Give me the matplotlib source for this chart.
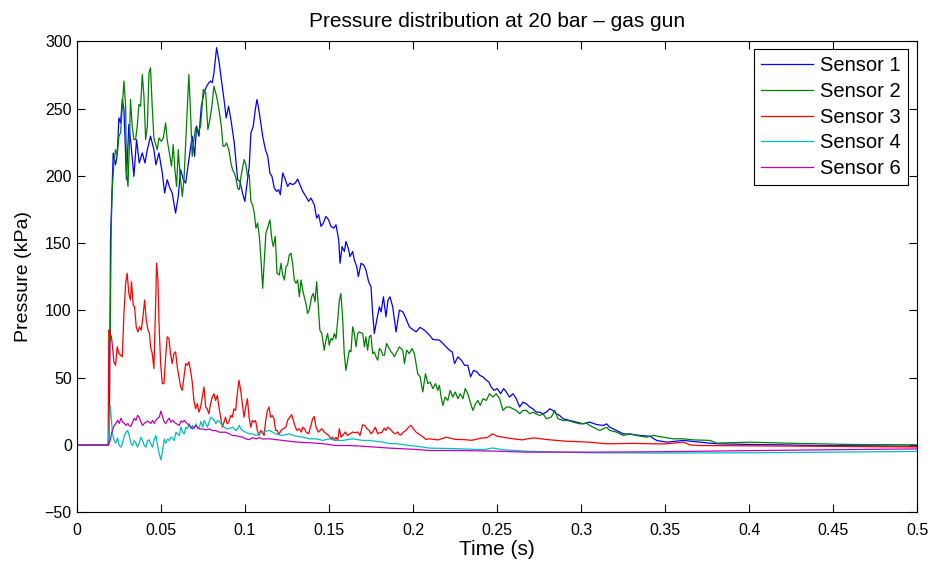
import matplotlib
matplotlib.use('Agg')
import matplotlib.pyplot as plt

plt.rcParams['font.family'] = ['Liberation Sans', 'DejaVu Sans']

# Sensor 1
t1 = [0, 0.0190, 0.0196, 0.0201, 0.0217, 0.0231, 0.0241, 0.0251, 0.0261, 0.0271,
      0.0281, 0.0296, 0.0310, 0.0324, 0.0340, 0.0356, 0.0372, 0.0390, 0.0406, 0.0420,
      0.0439, 0.0459, 0.0471, 0.0489, 0.0509, 0.0523, 0.0538, 0.0554, 0.0568, 0.0588,
      0.0604, 0.0618, 0.0634, 0.0648, 0.0667, 0.0687, 0.0701, 0.0713, 0.0727, 0.0741,
      0.0757, 0.0773, 0.0786, 0.0796, 0.0806, 0.0816, 0.0832, 0.0846, 0.0860, 0.0876,
      0.0889, 0.0903, 0.0917, 0.0937, 0.0957, 0.0971, 0.0986, 0.1000, 0.1012, 0.1026,
      0.1036, 0.1050, 0.1062, 0.1072, 0.1086, 0.1106, 0.1122, 0.1136, 0.1149, 0.1161,
      0.1175, 0.1189, 0.1201, 0.1211, 0.1225, 0.1241, 0.1254, 0.1268, 0.1284, 0.1300,
      0.1314, 0.1328, 0.1344, 0.1363, 0.1379, 0.1393, 0.1413, 0.1427, 0.1439, 0.1453,
      0.1467, 0.1482, 0.1498, 0.1512, 0.1528, 0.1542, 0.1558, 0.1566, 0.1578, 0.1592,
      0.1601, 0.1615, 0.1625, 0.1641, 0.1651, 0.1665, 0.1675, 0.1691, 0.1707, 0.1720,
      0.1736, 0.1750, 0.1760, 0.1770, 0.1784, 0.1800, 0.1810, 0.1824, 0.1839, 0.1851,
      0.1863, 0.1879, 0.1899, 0.1919, 0.1939, 0.1958, 0.1978, 0.1989, 0.2018, 0.2042,
      0.2068, 0.2098, 0.2118, 0.2157, 0.2178, 0.2197, 0.2217, 0.2233, 0.2247, 0.2267,
      0.2287, 0.2307, 0.2326, 0.2342, 0.2360, 0.2380, 0.2396, 0.2416, 0.2436, 0.2451,
      0.2465, 0.2481, 0.2501, 0.2521, 0.2539, 0.2555, 0.2574, 0.2594, 0.2614, 0.2634,
      0.2654, 0.2674, 0.2694, 0.2713, 0.2733, 0.2753, 0.2773, 0.2793, 0.2813, 0.2832,
      0.2852, 0.2872, 0.2892, 0.2932, 0.2972, 0.3012, 0.3051, 0.3091, 0.3131, 0.3151,
      0.3170, 0.3210, 0.3250, 0.3310, 0.3349, 0.3409, 0.3449, 0.3508, 0.3607, 0.3707,
      0.3806, 0.4005, 0.4203, 0.4402, 0.4700, 0.5]
p1 = [0, 0, 40, 152.4, 216.9, 208.2, 215.7, 243.0, 239.3, 256.7,
      249.3, 197.1, 238.1, 221.9, 199.6, 226.9, 209.5, 217.0, 209.5, 219.4,
      229.4, 219.4, 208.2, 217.0, 202.1, 187.2, 197.1, 190.9, 187.2, 172.3,
      184.7, 204.6, 197.1, 194.6, 212.0, 229.4, 214.5, 236.9, 229.4, 251.7,
      261.7, 266.6, 269.1, 270.4, 269.1, 276.5, 295.2, 285.3, 271.6, 256.7,
      243.0, 251.7, 241.8, 224.4, 197.1, 195.9, 187.2, 181.0, 193.4, 207.1,
      231.9, 236.9, 249.3, 256.7, 246.8, 229.4, 219.5, 214.5, 202.1, 199.6,
      190.9, 188.4, 189.7, 186.0, 202.1, 197.1, 192.1, 194.6, 193.4, 194.6,
      197.6, 193.4, 188.4, 184.7, 181.0, 183.5, 178.5, 168.6, 171.1, 162.4,
      164.9, 169.8, 167.3, 162.4, 161.1, 163.6, 152.4, 135.0, 147.4, 143.7,
      151.2, 146.2, 140.0, 143.7, 137.5, 132.5, 125.1, 135.0, 133.8, 130.0,
      121.3, 117.6, 97.7, 82.8, 92.7, 102.7, 98.9, 110.1, 95.2, 107.6,
      110.1, 102.7, 84.0, 100.2, 99.0, 94.0, 87.8, 86.6, 84.1, 87.4,
      85.3, 81.6, 78.4, 77.9, 75.4, 72.9, 70.4, 69.2, 60.5, 65.5,
      63.0, 59.2, 59.2, 50.6, 55.5, 54.3, 51.8, 50.6, 48.1, 46.8,
      43.1, 40.6, 41.9, 38.1, 41.9, 39.4, 35.6, 38.1, 34.4, 28.2,
      31.9, 30.6, 28.2, 26.9, 24.4, 24.4, 23.2, 24.4, 26.9, 25.7,
      23.2, 21.9, 19.5, 18.2, 17.0, 15.7, 17.0, 15.2, 14.5, 15.7,
      13.2, 10.8, 8.3, 7.8, 7.1, 6.5, 3.4, 2.1, 3.4, 2.1,
      0.9, 0.4, 0.1, -0.4, -0.6, -0.9]

# Sensor 2
t2 = [0, 0.0190, 0.0196, 0.0199, 0.0205, 0.0211, 0.0221, 0.0231, 0.0241, 0.0251,
      0.0261, 0.0271, 0.0281, 0.0291, 0.0296, 0.0305, 0.0314, 0.0320, 0.0330, 0.0340,
      0.0350, 0.0360, 0.0370, 0.0380, 0.0390, 0.0400, 0.0410, 0.0420, 0.0430, 0.0439,
      0.0449, 0.0459, 0.0479, 0.0489, 0.0503, 0.0515, 0.0529, 0.0538, 0.0554, 0.0564,
      0.0574, 0.0584, 0.0594, 0.0604, 0.0614, 0.0628, 0.0638, 0.0652, 0.0667, 0.0677,
      0.0687, 0.0697, 0.0707, 0.0721, 0.0737, 0.0753, 0.0767, 0.0780, 0.0792, 0.0804,
      0.0816, 0.0832, 0.0846, 0.0860, 0.0870, 0.0880, 0.0891, 0.0905, 0.0917, 0.0927,
      0.0937, 0.0947, 0.0957, 0.0967, 0.0977, 0.0986, 0.0996, 0.1006, 0.1016, 0.1026,
      0.1036, 0.1046, 0.1056, 0.1066, 0.1076, 0.1086, 0.1096, 0.1106, 0.1116, 0.1125,
      0.1135, 0.1149, 0.1161, 0.1169, 0.1181, 0.1191, 0.1205, 0.1215, 0.1225, 0.1235,
      0.1245, 0.1254, 0.1264, 0.1274, 0.1284, 0.1294, 0.1304, 0.1314, 0.1324, 0.1334,
      0.1344, 0.1353, 0.1363, 0.1373, 0.1383, 0.1397, 0.1407, 0.1417, 0.1427, 0.1437,
      0.1446, 0.1458, 0.1472, 0.1482, 0.1492, 0.1502, 0.1512, 0.1522, 0.1532, 0.1542,
      0.1552, 0.1562, 0.1571, 0.1581, 0.1591, 0.1601, 0.1611, 0.1621, 0.1631, 0.1641,
      0.1651, 0.1661, 0.1671, 0.1681, 0.1701, 0.1711, 0.1720, 0.1730, 0.1740, 0.1750,
      0.1760, 0.1770, 0.1780, 0.1790, 0.1800, 0.1810, 0.1820, 0.1830, 0.1843, 0.1859,
      0.1869, 0.1879, 0.1889, 0.1903, 0.1919, 0.1939, 0.1949, 0.1962, 0.1978, 0.1994,
      0.2008, 0.2028, 0.2042, 0.2058, 0.2074, 0.2088, 0.2102, 0.2118, 0.2134, 0.2147,
      0.2157, 0.2167, 0.2178, 0.2191, 0.2207, 0.2221, 0.2237, 0.2251, 0.2267, 0.2281,
      0.2297, 0.2310, 0.2326, 0.2340, 0.2356, 0.2372, 0.2386, 0.2400, 0.2416, 0.2436,
      0.2455, 0.2475, 0.2495, 0.2515, 0.2535, 0.2555, 0.2574, 0.2594, 0.2614, 0.2634,
      0.2654, 0.2674, 0.2694, 0.2713, 0.2753, 0.2773, 0.2793, 0.2822, 0.2843, 0.2862,
      0.2892, 0.2922, 0.2952, 0.2992, 0.3031, 0.3051, 0.3071, 0.3111, 0.3151, 0.3170,
      0.3210, 0.3250, 0.3290, 0.3329, 0.3389, 0.3429, 0.3488, 0.3548, 0.3607, 0.3667,
      0.3766, 0.3806, 0.4005, 0.4203, 0.4601, 0.5]
p2 = [0, 0, 85.3, 78.0, 160.0, 189.6, 209.5, 219.4, 215.7, 229.4,
      231.9, 251.7, 270.4, 251.7, 202.1, 192.1, 226.9, 256.7, 236.9, 226.9,
      226.9, 236.9, 253.0, 251.7, 275.3, 259.1, 226.9, 236.9, 276.6, 280.3,
      251.7, 228.1, 219.4, 228.1, 225.6, 228.1, 239.3, 226.9, 214.5, 207.1,
      223.2, 204.6, 192.1, 219.4, 202.1, 184.7, 197.1, 235.6, 275.3, 246.8,
      214.5, 226.9, 235.6, 231.9, 236.9, 264.2, 261.7, 234.4, 241.8, 251.7,
      266.6, 259.1, 249.3, 236.9, 222.0, 222.0, 224.4, 219.4, 209.5, 204.5,
      202.1, 198.4, 190.9, 189.7, 199.6, 205.8, 212.0, 208.3, 199.6, 200.8,
      181.0, 178.5, 172.3, 161.1, 164.9, 155.0, 137.5, 116.4, 137.5, 157.4,
      161.1, 167.3, 152.4, 147.4, 155.0, 127.6, 126.3, 135.0, 126.3, 122.6,
      132.5, 133.8, 141.2, 142.5, 135.0, 122.6, 120.1, 122.6, 110.1, 122.6,
      115.1, 110.1, 105.2, 97.7, 100.2, 110.1, 112.6, 106.4, 121.3, 102.7,
      85.3, 82.8, 70.4, 77.9, 82.8, 74.1, 79.1, 77.9, 82.8, 79.1,
      92.7, 107.6, 112.6, 95.2, 67.9, 55.5, 63.0, 70.4, 69.2, 87.8,
      82.8, 72.9, 82.8, 84.0, 82.8, 72.9, 80.4, 70.4, 80.4, 81.6,
      67.9, 69.2, 65.5, 63.0, 71.7, 70.4, 66.7, 66.7, 75.4, 71.7,
      69.2, 67.9, 65.5, 69.2, 72.9, 70.4, 60.5, 70.4, 67.9, 71.7,
      67.9, 53.0, 50.6, 39.4, 53.0, 45.6, 46.8, 41.9, 45.6, 40.6,
      44.3, 35.6, 29.4, 35.6, 33.1, 40.6, 35.6, 39.4, 34.4, 38.1,
      34.4, 41.9, 38.1, 31.9, 25.7, 30.6, 33.1, 29.4, 34.4, 33.1,
      38.1, 35.6, 38.1, 34.4, 25.7, 28.2, 28.2, 26.9, 25.7, 23.2,
      25.7, 25.7, 23.2, 24.4, 21.9, 23.2, 19.5, 20.7, 25.7, 19.5,
      18.2, 18.2, 17.0, 15.7, 16.2, 14.5, 13.2, 10.8, 13.2, 10.8,
      9.6, 7.1, 8.3, 7.1, 5.8, 7.1, 5.8, 4.6, 4.6, 3.8,
      3.4, 1.4, 2.1, 1.4, 0.4, 0.1]

# Sensor 3
t3 = [0, 0.0187, 0.0191, 0.0197, 0.0207, 0.0221, 0.0231, 0.0241, 0.0251, 0.0261,
      0.0271, 0.0281, 0.0291, 0.0300, 0.0310, 0.0320, 0.0326, 0.0336, 0.0344, 0.0354,
      0.0364, 0.0374, 0.0384, 0.0394, 0.0404, 0.0414, 0.0424, 0.0433, 0.0439, 0.0449,
      0.0459, 0.0469, 0.0475, 0.0483, 0.0489, 0.0499, 0.0509, 0.0519, 0.0529, 0.0538,
      0.0548, 0.0558, 0.0568, 0.0578, 0.0588, 0.0598, 0.0608, 0.0618, 0.0628, 0.0638,
      0.0648, 0.0658, 0.0667, 0.0677, 0.0687, 0.0697, 0.0707, 0.0717, 0.0727, 0.0737,
      0.0747, 0.0757, 0.0767, 0.0776, 0.0786, 0.0796, 0.0806, 0.0816, 0.0826, 0.0836,
      0.0846, 0.0856, 0.0866, 0.0876, 0.0885, 0.0895, 0.0905, 0.0915, 0.0925, 0.0935,
      0.0945, 0.0955, 0.0965, 0.0975, 0.0985, 0.0995, 0.1005, 0.1015, 0.1025, 0.1035,
      0.1044, 0.1054, 0.1064, 0.1074, 0.1084, 0.1094, 0.1104, 0.1114, 0.1124, 0.1134,
      0.1144, 0.1153, 0.1163, 0.1173, 0.1183, 0.1193, 0.1201, 0.1215, 0.1229, 0.1244,
      0.1254, 0.1268, 0.1278, 0.1288, 0.1300, 0.1310, 0.1324, 0.1336, 0.1344, 0.1354,
      0.1364, 0.1379, 0.1393, 0.1403, 0.1413, 0.1423, 0.1437, 0.1447, 0.1458, 0.1473,
      0.1486, 0.1498, 0.1512, 0.1522, 0.1532, 0.1542, 0.1552, 0.1562, 0.1572, 0.1582,
      0.1598, 0.1611, 0.1625, 0.1641, 0.1657, 0.1671, 0.1685, 0.1700, 0.1714, 0.1726,
      0.1740, 0.1750, 0.1760, 0.1776, 0.1790, 0.1800, 0.1814, 0.1829, 0.1839, 0.1849,
      0.1863, 0.1879, 0.1893, 0.1909, 0.1919, 0.1929, 0.1943, 0.1958, 0.1974, 0.1988,
      0.2002, 0.2018, 0.2033, 0.2047, 0.2061, 0.2077, 0.2093, 0.2150, 0.2197, 0.2250,
      0.2300, 0.2350, 0.2400, 0.2440, 0.2474, 0.2500, 0.2550, 0.2600, 0.2650, 0.2713,
      0.2800, 0.2912, 0.3051, 0.3151, 0.3310, 0.3409, 0.3500, 0.3607, 0.3650, 0.3707,
      0.4000, 0.4500, 0.5]
p3 = [0, 0, 85.3, 82.8, 80.4, 61.8, 59.2, 73.0, 68.0, 66.7,
      65.5, 97.7, 120.1, 127.6, 112.6, 107.6, 121.3, 103.9, 102.7, 87.8,
      84.0, 87.8, 85.3, 95.2, 107.6, 92.7, 85.3, 82.8, 73.0, 68.0,
      56.8, 102.7, 135.0, 122.6, 92.7, 60.5, 45.6, 45.6, 65.5, 80.4,
      79.1, 68.0, 60.5, 68.0, 69.2, 58.0, 50.6, 43.1, 40.6, 50.6,
      60.5, 59.2, 61.8, 55.5, 46.8, 33.1, 26.9, 30.6, 24.4, 28.2,
      35.6, 43.1, 28.2, 26.9, 23.2, 30.6, 35.6, 38.1, 33.1, 36.8,
      28.2, 20.7, 13.2, 17.0, 20.7, 15.7, 17.0, 21.9, 20.7, 26.9,
      25.7, 38.1, 48.1, 40.6, 30.6, 20.7, 28.2, 34.4, 20.7, 13.2,
      18.2, 17.0, 18.2, 10.8, 7.1, 10.8, 9.6, 7.1, 18.2, 25.7,
      28.2, 20.7, 21.9, 19.5, 10.8, 10.8, 7.6, 10.8, 12.1, 13.3,
      18.3, 20.7, 22.5, 18.3, 13.3, 10.8, 12.1, 9.6, 13.3, 12.1,
      9.6, 8.3, 14.5, 19.5, 21.2, 13.3, 9.6, 10.8, 12.1, 9.6,
      8.3, 7.1, 4.6, 5.8, 3.4, 5.8, 3.4, 12.1, 5.8, 7.1,
      9.6, 7.1, 8.3, 9.6, 9.1, 9.6, 7.1, 15.0, 14.5, 12.1,
      10.8, 8.3, 9.6, 13.3, 8.3, 9.1, 9.1, 12.6, 10.8, 13.3,
      12.1, 9.6, 8.3, 9.6, 7.6, 7.6, 9.6, 10.8, 13.3, 14.5,
      12.1, 9.6, 8.3, 7.1, 5.8, 4.1, 4.6, 3.8, 5.8, 4.2,
      4.0, 3.5, 5.0, 5.5, 8.3, 6.5, 5.5, 4.5, 3.8, 5.3,
      4.0, 2.8, 2.1, 0.9, 1.2, 0.9, 0.8, 2.1, 0.0, -0.4,
      -0.6, -1.0, -1.5]

# Sensor 4
t4 = [0, 0.0185, 0.0192, 0.0199, 0.0205, 0.0213, 0.0223, 0.0233, 0.0243, 0.0253,
      0.0263, 0.0273, 0.0283, 0.0293, 0.0303, 0.0312, 0.0322, 0.0332, 0.0342, 0.0352,
      0.0362, 0.0372, 0.0382, 0.0392, 0.0402, 0.0412, 0.0422, 0.0431, 0.0441, 0.0451,
      0.0461, 0.0471, 0.0481, 0.0491, 0.0501, 0.0511, 0.0521, 0.0530, 0.0540, 0.0550,
      0.0560, 0.0570, 0.0580, 0.0590, 0.0600, 0.0610, 0.0620, 0.0630, 0.0640, 0.0649,
      0.0659, 0.0669, 0.0679, 0.0689, 0.0699, 0.0709, 0.0719, 0.0729, 0.0739, 0.0749,
      0.0758, 0.0768, 0.0778, 0.0788, 0.0798, 0.0808, 0.0818, 0.0828, 0.0838, 0.0848,
      0.0858, 0.0868, 0.0887, 0.0907, 0.0927, 0.0947, 0.0957, 0.0967, 0.0976, 0.0986,
      0.1006, 0.1026, 0.1046, 0.1066, 0.1086, 0.1105, 0.1125, 0.1145, 0.1185, 0.1224,
      0.1264, 0.1304, 0.1344, 0.1383, 0.1423, 0.1463, 0.1502, 0.1542, 0.1582, 0.1641,
      0.1700, 0.1740, 0.1780, 0.1820, 0.1859, 0.1899, 0.1939, 0.1978, 0.2018, 0.2058,
      0.2097, 0.2276, 0.2420, 0.2474, 0.2530, 0.2672, 0.2871, 0.3069, 0.3466, 0.4000,
      0.4500, 0.5]
p4 = [0, 0, 10.0, 29.4, 20.7, 8.3, 3.4, 1.4, 5.2, -0.4,
      -1.6, 1.4, 7.0, 9.5, 10.7, 7.0, 1.4, -0.4, 3.3, 1.4,
      -1.6, 1.4, 5.7, 3.3, -0.4, -1.6, 3.3, 3.8, 0.9, -1.6,
      4.4, 7.0, -0.4, -6.6, -11.0, -4.1, 4.4, 1.4, 4.4, 3.3,
      5.7, 5.2, 3.3, 9.5, 8.3, 7.0, 13.3, 9.5, 8.3, 13.3,
      12.1, 15.8, 12.1, 14.5, 12.1, 15.8, 12.1, 13.3, 17.4, 13.3,
      18.3, 15.8, 13.3, 17.4, 20.7, 19.5, 18.3, 15.8, 18.3, 17.4,
      15.8, 14.5, 12.1, 12.1, 13.3, 10.7, 12.1, 14.5, 12.1, 10.7,
      9.5, 8.3, 8.3, 7.0, 8.3, 9.5, 10.2, 10.8, 8.3, 7.1,
      8.3, 6.6, 5.8, 4.6, 4.6, 3.4, 4.6, 3.4, 3.4, 4.6,
      3.4, 3.4, 2.7, 2.2, 1.0, 1.0, 0.3, -0.4, -0.9, -1.6,
      -2.3, -2.8, -3.5, -2.2, -3.5, -4.6, -5.3, -5.8, -6.0, -5.8,
      -5.3, -4.8]

# Sensor 6
t6 = [0, 0.0187, 0.0199, 0.0209, 0.0223, 0.0233, 0.0243, 0.0253, 0.0263, 0.0273,
      0.0283, 0.0293, 0.0303, 0.0312, 0.0322, 0.0332, 0.0342, 0.0352, 0.0362, 0.0372,
      0.0382, 0.0392, 0.0402, 0.0412, 0.0422, 0.0431, 0.0441, 0.0451, 0.0461, 0.0471,
      0.0481, 0.0491, 0.0501, 0.0511, 0.0521, 0.0530, 0.0540, 0.0550, 0.0560, 0.0570,
      0.0580, 0.0590, 0.0610, 0.0620, 0.0630, 0.0640, 0.0649, 0.0669, 0.0689, 0.0709,
      0.0729, 0.0748, 0.0768, 0.0788, 0.0808, 0.0828, 0.0848, 0.0868, 0.0887, 0.0907,
      0.0927, 0.0947, 0.0967, 0.0986, 0.1006, 0.1026, 0.1046, 0.1066, 0.1086, 0.1106,
      0.1145, 0.1225, 0.1304, 0.1383, 0.1463, 0.1542, 0.1621, 0.1700, 0.1780, 0.1859,
      0.1939, 0.2018, 0.2097, 0.2276, 0.2474, 0.2672, 0.3069, 0.3466, 0.4000, 0.4500,
      0.5]
p6 = [0, 0, 3.4, 9.5, 14.5, 16.0, 18.3, 16.0, 19.9, 17.0,
      16.2, 14.5, 16.0, 14.5, 13.8, 17.0, 19.9, 18.3, 22.0, 20.7,
      17.0, 14.5, 16.0, 17.0, 17.8, 17.0, 16.0, 18.3, 16.0, 18.3,
      19.9, 20.7, 25.2, 20.7, 17.0, 16.0, 18.3, 19.9, 17.0, 18.3,
      17.0, 16.0, 14.5, 17.8, 17.0, 18.3, 17.0, 14.5, 12.1, 14.5,
      11.9, 11.9, 11.3, 11.9, 10.7, 10.7, 9.5, 9.5, 9.5, 8.3,
      7.0, 7.0, 6.2, 5.9, 4.5, 4.0, 5.5, 4.5, 5.5, 4.5,
      4.6, 3.4, 2.2, 1.7, 1.0, -0.4, -0.4, -0.9, -1.6, -2.3,
      -2.8, -3.3, -4.1, -4.1, -4.5, -5.3, -5.3, -5.0, -4.2, -3.5,
      -2.9]

labels = ['Sensor 1', 'Sensor 2', 'Sensor 3', 'Sensor 4', 'Sensor 6']
colors = ['#0000ff', '#008000', '#ff0000', '#00bfbf', '#bf00bf']
xticks = [0, 0.05, 0.1, 0.15, 0.2, 0.25, 0.3, 0.35, 0.4, 0.45, 0.5]
xtick_labels = ['0', '0.05', '0.1', '0.15', '0.2', '0.25', '0.3', '0.35', '0.4', '0.45', '0.5']
yticks = [-50, 0, 50, 100, 150, 200, 250, 300]

fig = plt.figure(figsize=(9.31, 5.62), dpi=100)
W, H = 931, 562
ax = fig.add_axes([76.7 / W, 1 - 512.3 / H, (917.5 - 76.7) / W, (512.3 - 41.2) / H])

for t, p, lab, c in zip([t1, t2, t3, t4, t6], [p1, p2, p3, p4, p6], labels, colors):
    ax.plot(t, p, color=c, lw=0.9, label=lab)

ax.set_xlim(0, 0.5)
ax.set_ylim(-50, 300)
ax.set_xticks(xticks)
ax.set_xticklabels(xtick_labels)
ax.set_yticks(yticks)
ax.tick_params(direction='in', top=True, right=True, length=6, width=0.8,
               labelsize=11.5)
ax.tick_params(axis='x', pad=8)
ax.tick_params(axis='y', pad=3.5)
for s in ax.spines.values():
    s.set_linewidth(0.8)

ax.set_title('Pressure distribution at 20 bar \u2013 gas gun', fontsize=15, pad=10)
ax.set_xlabel('Time (s)', fontsize=15, labelpad=1)
ax.set_ylabel('Pressure (kPa)', fontsize=14, labelpad=9)

leg = ax.legend(loc='upper right', bbox_to_anchor=(0.989, 0.983), borderaxespad=0,
                fontsize=14.5, handlelength=2.6, handletextpad=0.35,
                labelspacing=0.33, borderpad=0.35, fancybox=False, framealpha=1)
leg.get_frame().set_edgecolor('black')
leg.get_frame().set_linewidth(0.8)

fig.savefig('out.png', dpi=100)
